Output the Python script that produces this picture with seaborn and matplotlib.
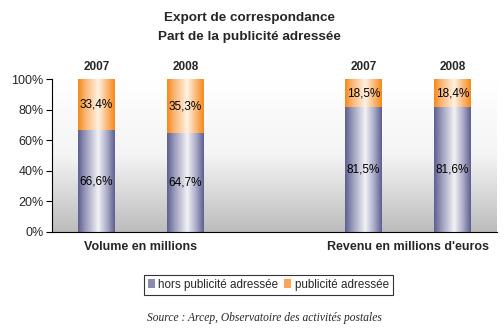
import numpy as np
import pandas as pd
import matplotlib
matplotlib.use("Agg")
import matplotlib.pyplot as plt
import seaborn as sns
from matplotlib.colors import LinearSegmentedColormap
from matplotlib.patches import Patch

# ---- data ----
groups = ["Volume en millions", "Revenu en millions d'euros"]
years = ["2007", "2008"]
hors_pub = [66.6, 64.7, 81.5, 81.6]     # hors publicité adressée
pub = [33.4, 35.3, 18.5, 18.4]          # publicité adressée
hors_labels = ["66,6%", "64,7%", "81,5%", "81,6%"]
pub_labels = ["33,4%", "35,3%", "18,5%", "18,4%"]
yticks = [0, 20, 40, 60, 80, 100]
ytick_labels = ["0%", "20%", "40%", "60%", "80%", "100%"]
series_names = ["hors publicité adressée", "publicité adressée"]

# ---- build frame ----
keys = []
for g in groups:
    for y in years:
        keys.append(f"{g}|{y}")
order = keys[:2] + ["gap"] + keys[2:]
df = pd.DataFrame({
    "key": keys,
    "hors": hors_pub,
    "pub": pub,
})
df["total"] = df["hors"] + df["pub"]

sns.set_theme(style="white")
plt.rcParams["font.family"] = ["Liberation Sans", "DejaVu Sans"]

fig = plt.figure(figsize=(5.04, 3.28), dpi=100)
W, H = 504, 328
ax = fig.add_axes([52 / W, 1 - 232 / H, 445 / W, 153 / H])

# background gradient
bg = np.linspace(0, 1, 256).reshape(-1, 1)
bg_cmap = LinearSegmentedColormap.from_list("bg", ["#ffffff", "#f4f4f4", "#bcbcbc"])
ax.imshow(bg, aspect="auto", cmap=bg_cmap, extent=[0, 1, 0, 1],
          transform=ax.transAxes, zorder=0, origin="upper")

bw = 37 / 89
sns.barplot(data=df, x="key", y="total", order=order, color="#f7931e",
            width=bw, ax=ax, saturation=1, zorder=2, errorbar=None, linewidth=0)
n_pub = len(ax.patches)
sns.barplot(data=df, x="key", y="hors", order=order, color="#6a6a9b",
            width=bw, ax=ax, saturation=1, zorder=3, errorbar=None, linewidth=0)

purple_cmap = LinearSegmentedColormap.from_list(
    "pur", [(0, "#5e5e90"), (0.2, "#9a9abb"), (0.55, "#f2f2f6"), (0.8, "#a8a8c6"), (1, "#5e5e90")])
orange_cmap = LinearSegmentedColormap.from_list(
    "ora", [(0, "#f58a1a"), (0.2, "#fbb574"), (0.55, "#fff2e2"), (0.8, "#fbb574"), (1, "#f58a1a")])
grad = np.linspace(0, 1, 128).reshape(1, -1)

for i, p in enumerate(list(ax.patches)):
    x0, y0 = p.get_x(), p.get_y()
    w, h = p.get_width(), p.get_height()
    if np.isnan(h) or h == 0:
        continue
    p.set_edgecolor("none")
    cmap = orange_cmap if i < n_pub else purple_cmap
    im = ax.imshow(grad, aspect="auto", cmap=cmap, extent=[x0, x0 + w, y0, y0 + h],
                   zorder=p.get_zorder() + 0.1, interpolation="bilinear")
    im.set_clip_path(p)

ax.set_xlim(-0.5, len(order) - 0.5)
ax.set_ylim(0, 100)

# value labels
bar_positions = [order.index(k) for k in keys]
for xpos, h, pv, hl, pl, in zip(bar_positions, hors_pub, pub, hors_labels, pub_labels):
    ax.text(xpos, h / 2, hl, ha="center", va="center", fontsize=8.5, color="black", zorder=6)
    ax.text(xpos, h + pv / 2, pl, ha="center", va="center", fontsize=8.5, color="black", zorder=6)

# year labels
for k, xpos in zip(keys, bar_positions):
    ax.text(xpos, 104, k.split("|")[1], ha="center", va="bottom", fontsize=8.5,
            fontweight="bold", clip_on=False)

# group labels
for gi, g in enumerate(groups):
    xs = [bar_positions[gi * 2], bar_positions[gi * 2 + 1]]
    ax.text(np.mean(xs), -6, g, ha="center", va="top", fontsize=9,
            fontweight="bold", clip_on=False)

ax.set_xticks([])
ax.set_yticks(yticks)
ax.set_yticklabels(ytick_labels, fontsize=9)
ax.tick_params(axis="y", direction="out", length=4, width=0.8, color="black", pad=2, left=True)
ax.set_xlabel("")
ax.set_ylabel("")
for s in ["top", "right"]:
    ax.spines[s].set_visible(False)
for s in ["left", "bottom"]:
    ax.spines[s].set_color("black")
    ax.spines[s].set_linewidth(0.8)
    ax.spines[s].set_zorder(7)

fig.text(249 / W, 1 - 18 / H, "Export de correspondance", ha="center",
         va="center", fontsize=9.7, fontweight="bold")
fig.text(249 / W, 1 - 37 / H, "Part de la publicité adressée", ha="center",
         va="center", fontsize=9.7, fontweight="bold")

handles = [Patch(facecolor="#8a8ab0", edgecolor="none"),
           Patch(facecolor="#f9a65a", edgecolor="none")]
leg = fig.legend(handles, series_names, loc="center", bbox_to_anchor=(268.5 / W, 1 - 285 / H),
                 ncol=2, fontsize=8.4, frameon=True, fancybox=False, handlelength=0.6,
                 handleheight=0.8, handletextpad=0.3, columnspacing=0.5, borderpad=0.35)
leg.get_frame().set_edgecolor("black")
leg.get_frame().set_linewidth(0.8)

fig.text(264 / W, 1 - 318 / H, "Source : Arcep, Observatoire des activités postales",
         ha="center", va="center", fontsize=8.3, style="italic", family=["Liberation Serif", "DejaVu Serif"])

fig.savefig("out.png", dpi=100, facecolor="white")
